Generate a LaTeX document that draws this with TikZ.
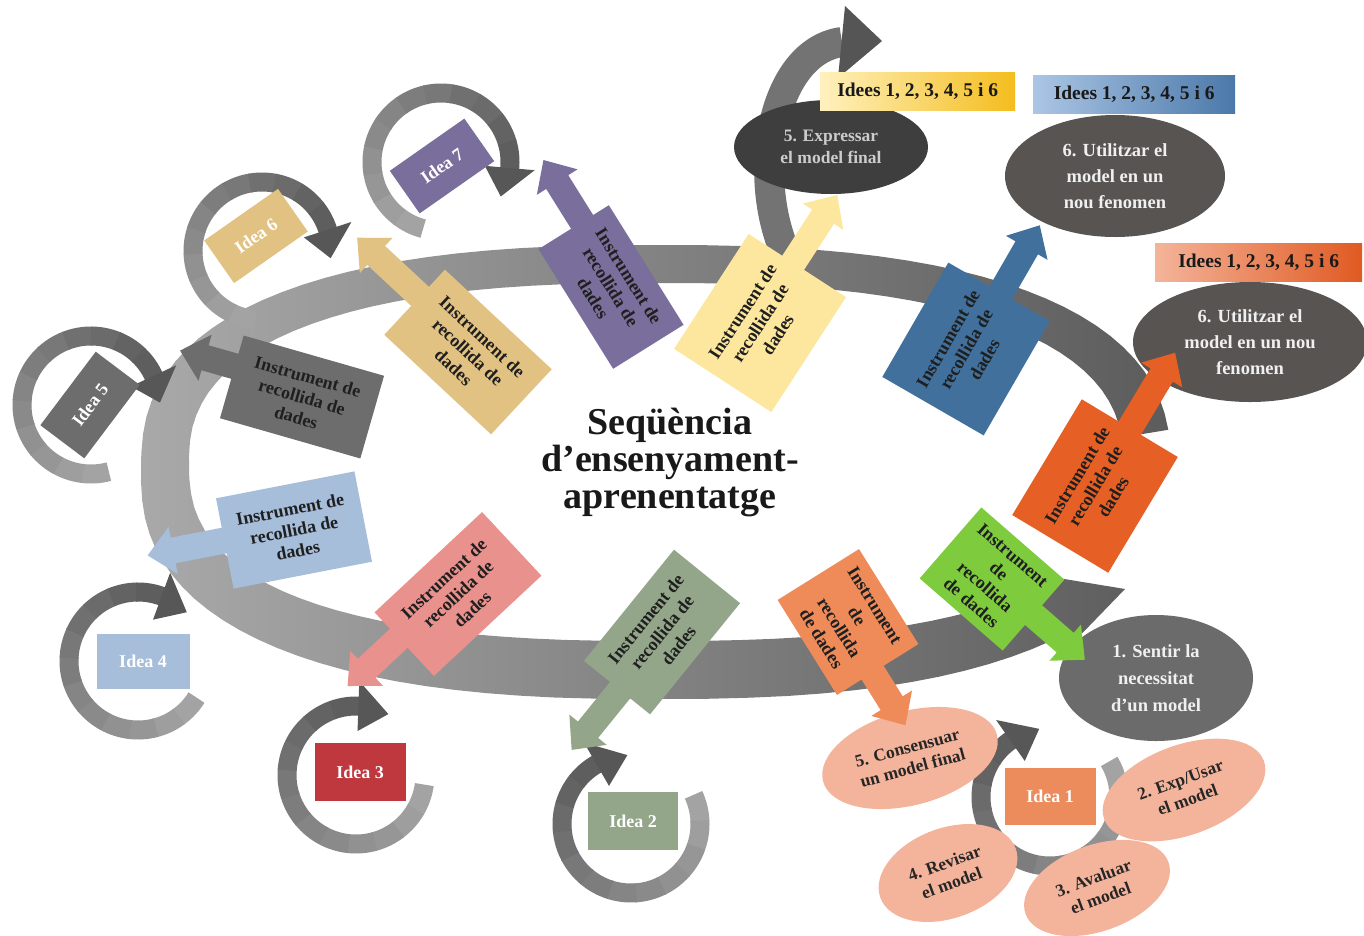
\documentclass[tikz,border=0pt]{standalone}
\usepackage{fontspec}
\setmainfont{Liberation Serif}
\usetikzlibrary{calc,shapes.geometric}

\definecolor{ringL}{HTML}{A9A9A9}
\definecolor{ringM}{HTML}{878787}
\definecolor{ringR}{HTML}{5C5C5C}
\definecolor{arcgray}{HTML}{737373}
\definecolor{archead}{HTML}{555555}
\definecolor{cGray}{HTML}{6D6D6D}
\definecolor{cTan}{HTML}{E1C283}
\definecolor{cPurple}{HTML}{7A6F9C}
\definecolor{cYellow}{HTML}{FDE79E}
\definecolor{cBlue}{HTML}{41709C}
\definecolor{cOrange}{HTML}{E65F24}
\definecolor{cGreen}{HTML}{7FCB3E}
\definecolor{cSalmon}{HTML}{EE8B58}
\definecolor{cSage}{HTML}{93A689}
\definecolor{cPink}{HTML}{E9918C}
\definecolor{cLblue}{HTML}{A7BEDB}
\definecolor{cRed}{HTML}{BF383E}
\definecolor{cIdeaOne}{HTML}{EC8C5D}
\definecolor{peach}{HTML}{F4B49C}
\definecolor{ovalA}{HTML}{3E3E3E}
\definecolor{ovalB}{HTML}{575452}
\definecolor{ovalC}{HTML}{6B6B6B}
\definecolor{yelA}{HTML}{FFF1BE}
\definecolor{yelB}{HTML}{F4BD1E}
\definecolor{bluA}{HTML}{ABC6E5}
\definecolor{bluB}{HTML}{4B78A9}
\definecolor{orA}{HTML}{F4B49A}
\definecolor{orB}{HTML}{E05A22}

\tikzset{
  boxtext/.style={align=center, text=black!88, font=\fontsize{18}{21}\selectfont\bfseries, inner sep=0pt},
  ideabox/.style={text=white, font=\fontsize{18}{20}\selectfont\bfseries, inner sep=0pt},
  darkoval/.style={ellipse, inner sep=0pt, align=center, text=white!94!black, font=\fontsize{18.5}{26}\selectfont\bfseries},
  peachoval/.style={ellipse, inner sep=0pt, fill=peach, align=center, text=black!85, font=\fontsize{17.5}{21}\selectfont\bfseries},
  tagbox/.style={inner sep=0pt, anchor=north west, font=\fontsize{19.5}{21}\selectfont\bfseries, text=black!90},
}

% rotated data-collection box with its arrow
% #1 name, #2 centre, #3 angle, #4 width, #5 height, #6 colour, #7 signed arrow length, #8 arrow offset, #9 text
\newcommand\instr[9]{%
  \begin{scope}[shift={#2}, rotate=#3]
    \pgfmathsetmacro\ihw{#4/2}%
    \pgfmathsetmacro\ihh{#5/2}%
    \pgfmathsetmacro\isg{ifthenelse(#7<0,-1,1)}%
    \pgfmathsetmacro\ixa{\isg*(\ihw-2)}%
    \pgfmathsetmacro\ixb{\isg*\ihw+#7-\isg*26}%
    \pgfmathsetmacro\ixc{\isg*\ihw+#7}%
    \fill[#6] (-\ihw,-\ihh) rectangle (\ihw,\ihh);
    \fill[#6] (\ixa,#8-13) -- (\ixb,#8-13) -- (\ixb,#8-24) -- (\ixc,#8)
      -- (\ixb,#8+24) -- (\ixb,#8+13) -- (\ixa,#8+13) -- cycle;
    \node[boxtext, rotate=#3] (#1) at (0,0) {#9};
  \end{scope}}

% circular arrow around an idea
% #1 name, #2 centre, #3 start angle, #4 end angle, #5 tip angle
\newcommand\cyclering[5]{%
  \coordinate (#1) at #2;
  \foreach \k in {0,...,11}{%
    \pgfmathsetmacro\segS{#3+(#4-#3)*\k/12}%
    \pgfmathsetmacro\segE{#3+(#4-#3)*(\k+1)/12+1}%
    \pgfmathtruncatemacro\segK{36+2.5*\k}%
    \draw[line width=19pt, draw=black!\segK] (#1) ++(\segS:69)
      arc[start angle=\segS, end angle=\segE, radius=69];
  }%
  \fill[black!66] ($(#1)+(#4:44)$) -- ($(#1)+(#4:94)$) -- ($(#1)+(#5:69)$) -- cycle;
}

\begin{document}
\begin{tikzpicture}[x=1pt, y=-1pt,
  declare function={
    spx(\t)=ifthenelse(cos(\t)<0,-1,1)*(abs(cos(\t))+0.0001)^0.8;
    spy(\t)=ifthenelse(sin(\t)<0,-1,1)*(abs(sin(\t))+0.0001)^0.8;
  }]
\fill[white] (0,0) rectangle (1364,935);
\useasboundingbox (0,0) rectangle (1364,935);

% main cycle band
\shade[left color=ringL, middle color=ringM, right color=ringR]
  plot[domain=-6:-319, samples=90, variable=\t]
    ({656+(515+5*sin(\t))*spx(\t)}, {467+(227+5*sin(\t))*spy(\t)})
  -- (1066,650) -- (1125,589) -- (1034,574)
  -- plot[domain=-319:-6, samples=90, variable=\t]
    ({656+(467-5*sin(\t))*spx(\t)}, {467+(179-5*sin(\t))*spy(\t)})
  -- cycle;

% curved arrow towards the final model
\coordinate (upA) at (793,268);
\coordinate (upB) at (842,42);
\draw[line width=30pt, draw=arcgray] (upA) .. controls (748,190) and (768,52) .. (upB);
\fill[archead] (845,6) -- (882,41) -- (838,78) -- cycle;

% idea cycles
\cyclering{r7}{(441,162)}{105}{365}{390}
\cyclering{r6}{(262,251)}{95}{342}{366}
\cyclering{r5}{(91,405)}{75}{335}{358}
\cyclering{r4}{(138,661)}{32}{290}{315}
\cyclering{r3}{(356,775)}{8}{272}{298}
\cyclering{r2}{(631,824)}{335}{600}{627}

\node[ideabox, fill=cPurple, minimum width=91, minimum height=52, rotate=35] (idea7) at (442,166) {Idea 7};
\node[ideabox, fill=cTan, minimum width=90, minimum height=52, rotate=35] (idea6) at (256,236) {Idea 6};
\node[ideabox, fill=cGray, minimum width=92, minimum height=55, rotate=53] (idea5) at (90,405) {Idea 5};
\node[ideabox, fill=cLblue, minimum width=93, minimum height=55] (idea4) at (143,661) {Idea 4};
\node[ideabox, fill=cRed, minimum width=91, minimum height=58] (idea3) at (360,772) {Idea 3};
\node[ideabox, fill=cSage, minimum width=90, minimum height=58] (idea2) at (633,821) {Idea 2};

% outcome ovals and tags
\node[darkoval, fill=ovalA, minimum width=194, minimum height=94, text=black!20,
  font=\fontsize{17.5}{22}\selectfont\bfseries] (express) at (831,147) {5. Expressar\\el model final};
\node[darkoval, fill=ovalB, minimum width=220, minimum height=122] (useA) at (1115,176) {6. Utilitzar el\\model en un\\nou fenomen};
\node[darkoval, fill=ovalB, minimum width=234, minimum height=120] (useB) at (1250,342) {6. Utilitzar el\\model en un nou\\fenomen};
\node[darkoval, fill=ovalC, minimum width=194, minimum height=126,
  font=\fontsize{18.5}{27}\selectfont\bfseries] (feel) at (1156,678) {1. Sentir la\\necessitat\\d’un model};

\node[tagbox, left color=yelA, right color=yelB, minimum width=195, minimum height=38] (tagY) at (820,72) {Idees 1, 2, 3, 4, 5 i 6};
\node[tagbox, left color=bluA, right color=bluB, minimum width=202, minimum height=38] (tagB) at (1033,75) {Idees 1, 2, 3, 4, 5 i 6};
\node[tagbox, left color=orA, right color=orB, minimum width=207, minimum height=38] (tagO) at (1155,243) {Idees 1, 2, 3, 4, 5 i 6};

% first idea and its inner cycle
\cyclering{r1}{(1050,797)}{329}{595}{621}
\node[ideabox, fill=cIdeaOne, minimum width=91, minimum height=57] (idea1) at (1050,796) {Idea 1};
\node[peachoval, minimum width=180, minimum height=94, rotate=15] (agree) at (910,758) {5. Consensuar\\un model final};
\node[peachoval, minimum width=170, minimum height=90, rotate=20] (apply) at (1184,790) {2. Exp/Usar\\el model};
\node[peachoval, minimum width=152, minimum height=86, rotate=20] (assess) at (1097,888) {3. Avaluar\\el model};
\node[peachoval, minimum width=144, minimum height=90, rotate=20] (revise) at (948,873) {4. Revisar\\el model};

% data-collection instruments
\instr{ins5}{(302,397)}{-16}{146}{86}{cGray}{-57}{-11}{Instrument de\\recollida de\\dades}
\instr{ins6}{(468,352)}{-43}{146}{89}{cTan}{-86}{-8}{Instrument de\\recollida de\\dades}
\instr{ins7}{(611,287)}{-58}{141}{83}{cPurple}{-73}{-10}{Instrument de\\recollida de\\dades}
\instr{insY}{(760,323)}{57}{137}{116}{cYellow}{81}{-5}{Instrument de\\recollida de\\dades}
\instr{insB}{(966,349)}{60}{132}{117}{cBlue}{78}{2}{Instrument de\\recollida de\\dades}
\instr{insO}{(1095,486)}{59}{135}{112}{cOrange}{88}{0}{Instrument de\\recollida de\\dades}
\instr{insG}{(992,579)}{-41}{110}{94}{cGreen}{68}{0}{Instrument\\de\\recollida\\de dades}
\instr{ins1}{(848,622)}{-58}{112}{96}{cSalmon}{62}{6}{Instrument\\de\\recollida\\de dades}
\instr{ins2}{(662,632)}{51}{143}{85}{cSage}{-77}{4}{Instrument de\\recollida de\\dades}
\instr{ins3}{(458,594)}{43}{147}{87}{cPink}{-70}{-8}{Instrument de\\recollida de\\dades}
\instr{ins4}{(294,530)}{11}{141}{92}{cLblue}{-78}{-3}{Instrument de\\recollida de\\dades}

% title
\node[font=\fontsize{38}{37}\selectfont\bfseries, align=center, text=black!90] (title) at (670,462)
  {Seqüència\\d’ensenyament-\\aprenentatge};
\end{tikzpicture}
\end{document}
